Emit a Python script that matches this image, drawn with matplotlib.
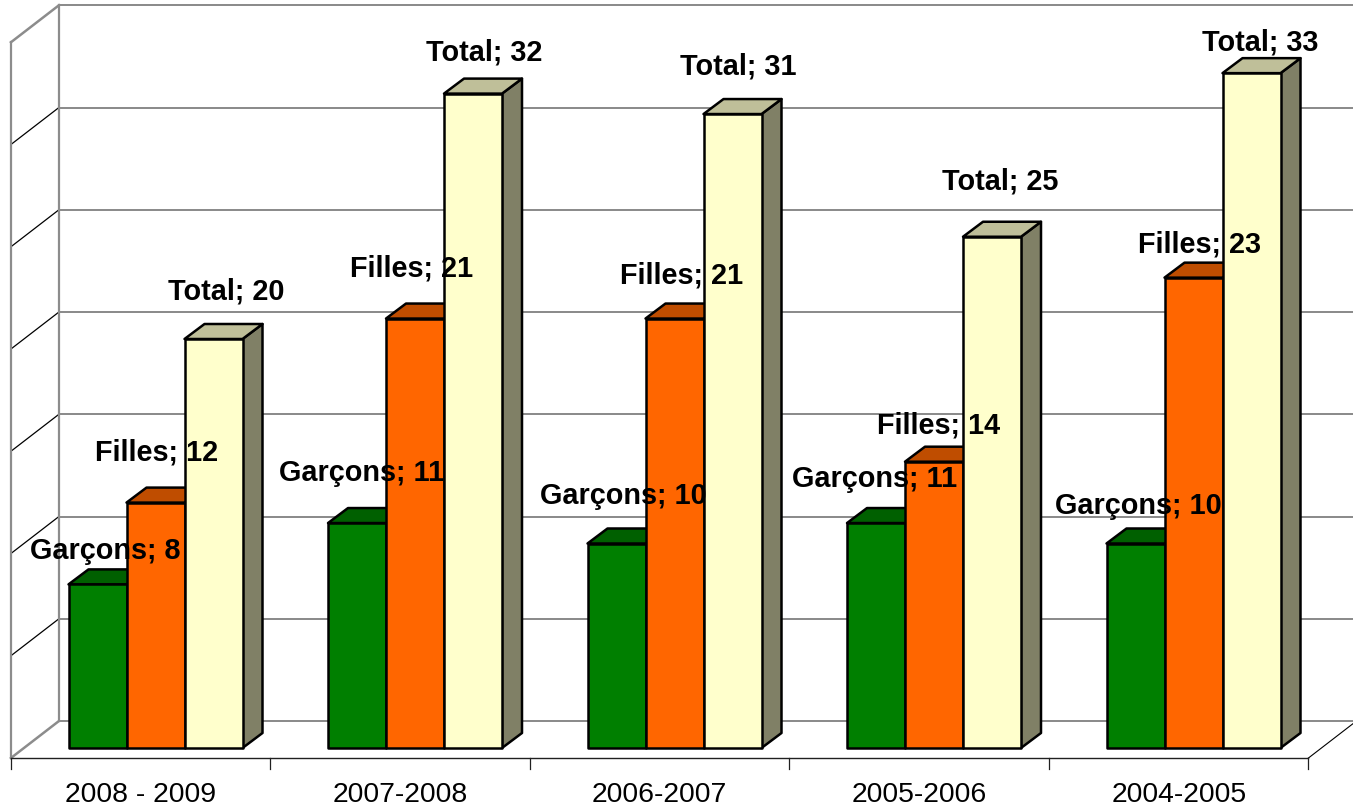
import matplotlib
matplotlib.use("Agg")
import matplotlib.pyplot as plt
from matplotlib.patches import Polygon

plt.rcParams['font.family'] = ['Liberation Sans', 'DejaVu Sans']

# --- data ---
periods = ["2008 - 2009", "2007-2008", "2006-2007", "2005-2006", "2004-2005"]
garcons = [8, 11, 10, 11, 10]
filles = [12, 21, 21, 14, 23]
total = [20, 32, 31, 25, 33]
series_names = ["Garçons", "Filles", "Total"]
grid_values = [0, 5, 10, 15, 20, 25, 30, 35]

# --- style and layout ---
W, H = 1353, 809
PX_X = 259.5          # pixels per category
PX_Y = 20.45          # pixels per value unit
X0, Y0 = 155.5, 748   # pixel position of category 0 centre, value 0
front = {"Garçons": ("#007F00", "#006000", "#004000"),
         "Filles": ("#FF6600", "#BF4D00", "#803300"),
         "Total": ("#FFFFCC", "#BFBF99", "#808066")}
bar_w = 58 / PX_X
bar_dx, bar_dy = 20 / PX_X, 15 / PX_Y
wall_dx, wall_dy = 48 / PX_X, 37 / PX_Y
floor_y = -10 / PX_Y
left_x, right_x = -0.557, 4.443
# label offsets from the bar's front top-centre, in pixels
label_offsets = [
    [(8, 33), (1.5, 50), (13, 47)],
    [(5, 50), (-3, 50), (11, 41)],
    [(7, 48), (7.5, 43), (6, 48)],
    [(-1, 44), (5, 36), (8, 55)],
    [(3, 37), (6, 33), (9, 31)],
]

fig = plt.figure(figsize=(W / 100, H / 100), dpi=100)
ax = fig.add_axes([0, 0, 1, 1])
ax.set_xlim(-X0 / PX_X, (W - X0) / PX_X)
ax.set_ylim((Y0 - H) / PX_Y, Y0 / PX_Y)
ax.axis("off")

WALL = "#8C8C8C"
# back wall gridlines and left wall diagonals
top_v = grid_values[-1]
for v in grid_values:
    yb = floor_y + wall_dy + v
    ax.plot([left_x + wall_dx, right_x + wall_dx], [yb, yb], color="#808080", lw=1.3, zorder=1)
    is_edge = v in (grid_values[0], top_v)
    ax.plot([left_x, left_x + wall_dx], [floor_y + v, yb],
            color=WALL if is_edge else "black", lw=1.8 if is_edge else 0.9, zorder=1)
# wall verticals
ax.plot([left_x, left_x], [floor_y, floor_y + top_v], color=WALL, lw=1.6, zorder=1)
ax.plot([left_x + wall_dx] * 2, [floor_y + wall_dy, floor_y + wall_dy + top_v], color=WALL, lw=1.6, zorder=1)
# floor front edge, right diagonal, ticks
ax.plot([left_x, right_x], [floor_y, floor_y], color="#202020", lw=1.0, zorder=1)
ax.plot([right_x, right_x + wall_dx], [floor_y, floor_y + wall_dy], color="black", lw=0.8, zorder=1)
for i in range(len(periods) + 1):
    ax.plot([left_x + i] * 2, [floor_y, floor_y - 11 / PX_Y], color="#202020", lw=0.9, zorder=1)
for i, p in enumerate(periods):
    ax.text(left_x + i + 0.5, floor_y - 37.5 / PX_Y, p, ha="center", va="center",
            fontsize=20.4, color="black", zorder=6)

# bars
z = 2
rows = [garcons, filles, total]
for i in range(len(periods)):
    for s, name in enumerate(series_names):
        v = rows[s][i]
        c_f, c_t, c_s = front[name]
        x0 = i + (s - 1.5) * bar_w
        x1 = x0 + bar_w
        kw = dict(edgecolor="black", lw=1.8, joinstyle="round", zorder=z)
        ax.add_patch(Polygon([(x1, 0), (x1 + bar_dx, bar_dy), (x1 + bar_dx, v + bar_dy), (x1, v)],
                             facecolor=c_s, **kw))
        ax.add_patch(Polygon([(x0, v), (x1, v), (x1 + bar_dx, v + bar_dy), (x0 + bar_dx, v + bar_dy)],
                             facecolor=c_t, **kw))
        ax.add_patch(Polygon([(x0, 0), (x1, 0), (x1, v), (x0, v)], facecolor=c_f, **kw))
        z += 1
        off = label_offsets[i][s]
        ax.annotate(f"{name}; {v}", xy=(x0 + bar_w / 2, v), xytext=off, textcoords="offset pixels",
                    ha="center", va="center", fontsize=20.8, fontweight="bold", color="black", zorder=100)

fig.savefig("out.png", dpi=100)
